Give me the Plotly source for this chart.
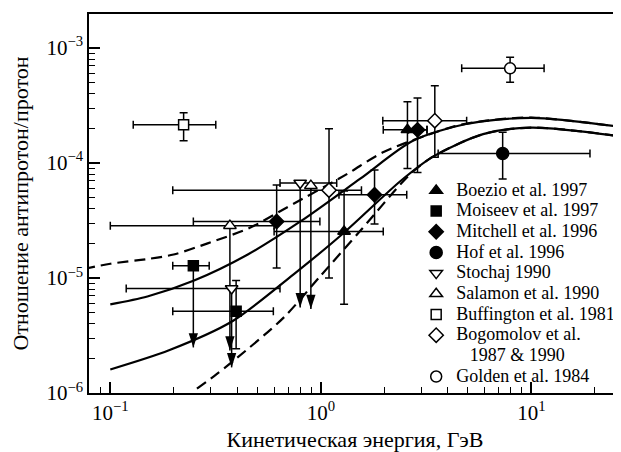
import plotly.graph_objects as go

# Кривые расчета (энергия, ГэВ -> отношение)
solid_hi_e = [0.1, 0.15, 0.25, 0.45, 0.8, 1.54, 2.74, 4.9, 10.0, 27.0]
solid_hi_r = [5.9e-6, 6.9e-6, 9.5e-6, 1.6e-5, 3.1e-5, 7.3e-5, 1.56e-4, 2.18e-4, 2.47e-4, 2.05e-4]
dash_hi_e = [0.075, 0.1, 0.15, 0.2, 0.29, 0.46, 0.69, 1.33, 2.0, 4.3, 6.0, 10.0, 27.0]
dash_hi_r = [1.2e-5, 1.33e-5, 1.46e-5, 1.6e-5, 2.0e-5, 2.73e-5, 4.1e-5, 8.0e-5, 1.25e-4, 2.08e-4, 2.32e-4, 2.48e-4, 2.05e-4]
solid_lo_e = [0.1, 0.19, 0.38, 0.74, 1.28, 2.4, 3.43, 5.9, 10.0, 27.0]
solid_lo_r = [1.6e-6, 2.35e-6, 4.2e-6, 1.07e-5, 2.45e-5, 7.0e-5, 1.14e-4, 1.78e-4, 2.03e-4, 1.7e-4]
dash_lo_e = [0.258, 0.32, 0.384, 0.664, 1.0, 1.54, 2.66, 3.43, 5.9, 10.0, 27.0]
dash_lo_r = [1.09e-6, 1.46e-6, 1.9e-6, 4.5e-6, 1.05e-5, 2.57e-5, 8.0e-5, 1.14e-4, 1.78e-4, 2.03e-4, 1.7e-4]

# Экспериментальные точки
boezio_e = [1.29, 2.58]
boezio_r = [2.54e-5, 1.94e-4]
boezio_e_lo = [0.6, 1.98]
boezio_e_hi = [1.98, 3.2]
boezio_r_lo = [5.9e-6, 8.97e-5]
boezio_r_hi = [5.7e-5, 3.41e-4]

moiseev_e = [0.248, 0.396]
moiseev_r = [1.28e-5, 5.13e-6]
moiseev_e_lo = [0.198, 0.198]
moiseev_e_hi = [0.295, 0.595]
moiseev_r_lo = [1.28e-5, 2.42e-6]
moiseev_r_hi = [1.28e-5, 9.5e-6]

mitchell_e = [0.617, 1.8, 2.88]
mitchell_r = [3.1e-5, 5.3e-5, 1.94e-4]
mitchell_e_lo = [0.248, 1.22, 2.61]
mitchell_e_hi = [0.99, 2.56, 3.19]
mitchell_r_lo = [1.22e-5, 2.95e-5, 8.27e-5]
mitchell_r_hi = [6.44e-5, 8.7e-5, 3.67e-4]

hof_e = [7.31]
hof_r = [1.21e-4]
hof_e_lo = [3.61]
hof_e_hi = [19.0]
hof_r_lo = [7.26e-5]
hof_r_hi = [1.85e-4]

stochaj_e = [0.377, 0.798]
stochaj_r = [8.1e-6, 6.7e-5]
stochaj_e_lo = [0.119, 0.64]
stochaj_e_hi = [0.64, 1.19]
stochaj_r_lo = [8.1e-6, 6.7e-5]
stochaj_r_hi = [8.1e-6, 6.7e-5]

salamon_e = [0.37, 0.897]
salamon_r = [2.85e-5, 6.35e-5]
salamon_e_lo = [0.1, 0.897]
salamon_e_hi = [0.6, 0.897]
salamon_r_lo = [2.85e-5, 6.35e-5]
salamon_r_hi = [2.85e-5, 6.35e-5]

buff_e = [0.223]
buff_r = [2.15e-4]
buff_e_lo = [0.1285]
buff_e_hi = [0.317]
buff_r_lo = [1.56e-4]
buff_r_hi = [2.73e-4]

bogom_e = [1.094, 3.48]
bogom_r = [5.8e-5, 2.33e-4]
bogom_e_lo = [0.198, 1.97]
bogom_e_hi = [1.56, 4.93]
bogom_r_lo = [1.0e-5, 1.12e-4]
bogom_r_hi = [1.98e-4, 4.7e-4]

golden_e = [7.93]
golden_r = [6.65e-4]
golden_e_lo = [4.67]
golden_e_hi = [11.5]
golden_r_lo = [5.02e-4]
golden_r_hi = [8.28e-4]

# Верхние пределы: точка -> стрелка вниз
limit_e = [0.248, 0.377, 0.37, 0.798, 0.897]
limit_from = [1.28e-5, 8.1e-6, 2.85e-5, 6.7e-5, 6.35e-5]
limit_to = [2.49e-6, 1.67e-6, 2.34e-6, 5.55e-6, 5.37e-6]

# Подписи делений
x_ticks = [0.1, 1, 10]
x_ticktext = ['10<sup>\u22121</sup>', '10<sup>0</sup>', '10<sup>1</sup>']
y_ticks = [1e-6, 1e-5, 1e-4, 1e-3]
y_ticktext = ['10<sup>\u22126</sup>', '10<sup>\u22125</sup>', '10<sup>\u22124</sup>', '10<sup>\u22123</sup>']

FONT = "Liberation Serif, Times New Roman, serif"


def big(text):
    # крупный текст легенды при плотном шаге строк
    return '<span style="font-size:18px">%s</span>' % text


fig = go.Figure()

for e, r, dash in [(solid_hi_e, solid_hi_r, 'solid'), (dash_hi_e, dash_hi_r, '11px,6px'),
                   (solid_lo_e, solid_lo_r, 'solid'), (dash_lo_e, dash_lo_r, '11px,6px')]:
    fig.add_trace(go.Scatter(
        x=e, y=r, mode='lines', showlegend=False, hoverinfo='skip',
        line=dict(color='black', width=2.2, dash=dash, shape='spline', smoothing=0.8)
    ))

# стрелки верхних пределов
fig.add_trace(go.Scatter(
    x=limit_e, y=limit_to, mode='markers', showlegend=False,
    marker=dict(symbol='arrow', angle=180, size=15, color='black'),
    error_y=dict(type='data', symmetric=False,
                 array=[a - b for a, b in zip(limit_from, limit_to)],
                 arrayminus=[0] * len(limit_to),
                 color='black', thickness=1.5, width=0)
))


def add_points(name, e, r, e_lo, e_hi, r_lo, r_hi, symbol, filled, size):
    fig.add_trace(go.Scatter(
        x=e, y=r, mode='markers', name=big(name),
        marker=dict(symbol=symbol, size=size,
                    color='black' if filled else 'white',
                    line=dict(color='black', width=1.5)),
        error_x=dict(type='data', symmetric=False,
                     array=[h - v for h, v in zip(e_hi, e)],
                     arrayminus=[v - l for v, l in zip(e, e_lo)],
                     color='black', thickness=1.5, width=4),
        error_y=dict(type='data', symmetric=False,
                     array=[h - v for h, v in zip(r_hi, r)],
                     arrayminus=[v - l for v, l in zip(r, r_lo)],
                     color='black', thickness=1.5, width=4),
    ))


add_points('Boezio et al. 1997', boezio_e, boezio_r, boezio_e_lo, boezio_e_hi,
           boezio_r_lo, boezio_r_hi, 'triangle-up', True, 11)
add_points('Moiseev et al. 1997', moiseev_e, moiseev_r, moiseev_e_lo, moiseev_e_hi,
           moiseev_r_lo, moiseev_r_hi, 'square', True, 10)
add_points('Mitchell et al. 1996', mitchell_e, mitchell_r, mitchell_e_lo, mitchell_e_hi,
           mitchell_r_lo, mitchell_r_hi, 'diamond', True, 11)
add_points('Hof et al. 1996', hof_e, hof_r, hof_e_lo, hof_e_hi,
           hof_r_lo, hof_r_hi, 'circle', True, 12)
add_points('Stochaj 1990', stochaj_e, stochaj_r, stochaj_e_lo, stochaj_e_hi,
           stochaj_r_lo, stochaj_r_hi, 'triangle-down', False, 11)
add_points('Salamon et al. 1990', salamon_e, salamon_r, salamon_e_lo, salamon_e_hi,
           salamon_r_lo, salamon_r_hi, 'triangle-up', False, 11)
add_points('Buffington et al. 1981', buff_e, buff_r, buff_e_lo, buff_e_hi,
           buff_r_lo, buff_r_hi, 'square', False, 10)
add_points('Bogomolov et al.', bogom_e, bogom_r, bogom_e_lo, bogom_e_hi,
           bogom_r_lo, bogom_r_hi, 'diamond', False, 11)
# вторая строка подписи Bogomolov
fig.add_trace(go.Scatter(
    x=[None], y=[None], mode='markers', name=big('\u00a0\u00a0\u00a01987 & 1990'),
    marker=dict(color='rgba(0,0,0,0)', size=1), hoverinfo='skip'
))
add_points('Golden et al. 1984', golden_e, golden_r, golden_e_lo, golden_e_hi,
           golden_r_lo, golden_r_hi, 'circle', False, 11)

x_minor = [m * 10 ** p for p in range(-2, 2) for m in range(2, 10)]
y_minor = [m * 10.0 ** p for p in range(-7, -2) for m in range(2, 10)]

# страница имеет отступ 8px, поэтому фигура чуть меньше окна
fig.update_layout(
    width=613, height=444,
    margin=dict(l=81, r=0, t=6, b=59),
    plot_bgcolor='white', paper_bgcolor='white',
    font=dict(family=FONT, size=21, color='black'),
    legend=dict(x=0.615, y=0.575, xanchor='left', yanchor='top',
                bgcolor='rgba(0,0,0,0)', font=dict(size=13.6), tracegroupgap=0),
    xaxis=dict(
        type='log', range=[-1.1012, 1.4261], automargin=False,
        tickvals=x_ticks, ticktext=x_ticktext,
        showline=True, linecolor='black', linewidth=1.5, mirror=True,
        ticks='inside', ticklen=11, tickwidth=1.5, tickcolor='black',
        showgrid=False, zeroline=False,
        minor=dict(tickvals=x_minor, ticks='inside', ticklen=6, tickwidth=1.3,
                   tickcolor='black', showgrid=False),
        title=dict(text='Кинетическая энергия, ГэВ', font=dict(size=22), standoff=8),
    ),
    yaxis=dict(
        type='log', range=[-6, -2.705], automargin=False,
        tickvals=y_ticks, ticktext=y_ticktext,
        showline=True, linecolor='black', linewidth=1.5,
        ticks='inside', ticklen=11, tickwidth=1.5, tickcolor='black',
        showgrid=False, zeroline=False,
        minor=dict(tickvals=y_minor, ticks='inside', ticklen=6, tickwidth=1.3,
                   tickcolor='black', showgrid=False),
        title=dict(text='Отношение антипротон/протон', font=dict(size=22), standoff=23),
    ),
)

fig.write_html("out.html")
